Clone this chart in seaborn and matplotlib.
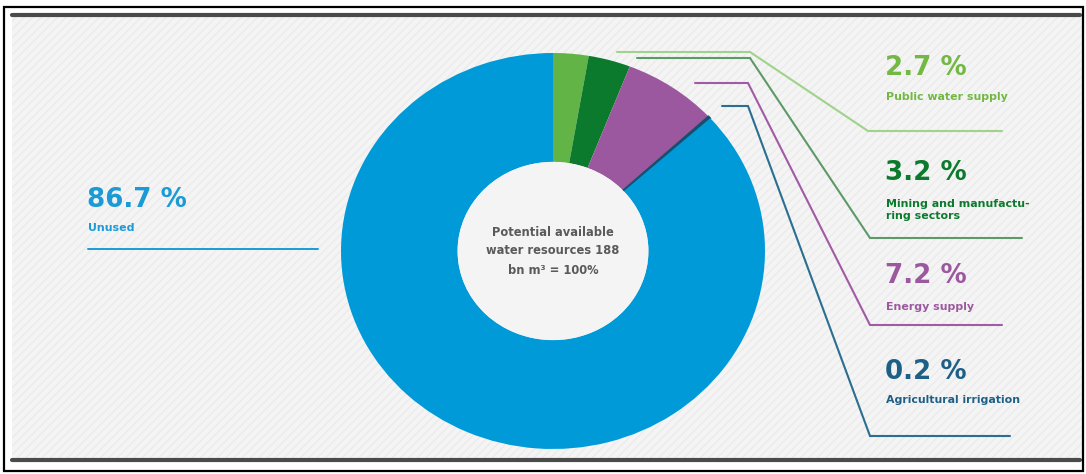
import matplotlib
matplotlib.use("Agg")
import matplotlib.pyplot as plt
import seaborn as sns
from matplotlib.patches import Rectangle

sns.set_theme(style="white")
plt.rcParams['font.family'] = ['DejaVu Sans']

# ---- data ----
categories = ["Public water supply", "Mining and manufactu-\nring sectors",
              "Energy supply", "Agricultural irrigation", "Unused"]
values = [2.7, 3.2, 7.2, 0.2, 86.7]
pct_labels = ["2.7 %", "3.2 %", "7.2 %", "0.2 %", "86.7 %"]
center_text = "Potential available\nwater resources 188\nbn m³ = 100%"

wedge_colors = ["#62b446", "#0b7a2c", "#9c589f", "#17506f", "#009ad9"]
text_colors = ["#72b843", "#0b7a2c", "#9c589f", "#1d5f86", "#1b9ad6"]
line_colors = ["#9fd28a", "#5e9a68", "#a05ba4", "#2b6e91", "#1b9ad6"]

W, H = 1086, 474
fig = plt.figure(figsize=(W / 100, H / 100), dpi=100)
ax = fig.add_axes([0, 0, 1, 1])

def Y(y):
    return H - y

# background & frame
ax.add_patch(Rectangle((12, Y(460)), 1070, 445, facecolor="#f4f4f4",
                       edgecolor="#ebebeb", hatch="////", lw=0, zorder=0))
ax.add_patch(Rectangle((4, Y(471)), 1079, 464, facecolor="none",
                       edgecolor="black", lw=1.6, zorder=5))
ax.plot([12, 1080], [Y(15), Y(15)], color="#4a4a4a", lw=3, zorder=4)
ax.plot([12, 1080], [Y(460), Y(460)], color="#4a4a4a", lw=3, zorder=4)

# leader lines (right side)
leaders = [
    [(617, 52), (750, 52), (868, 131), (1002, 131)],
    [(637, 58), (750, 58), (870, 238), (1022, 238)],
    [(695, 83), (748, 83), (870, 325), (1002, 325)],
    [(722, 106), (748, 106), (870, 436), (1010, 436)],
]
for pts, c in zip(leaders, line_colors[:4]):
    ax.plot([p[0] for p in pts], [Y(p[1]) for p in pts], color=c, lw=1.5,
            zorder=3, solid_joinstyle="miter")

# right labels
pct_y = [68, 173, 276, 372]
name_y = [97, 210, 307, 400]
for i in range(4):
    ax.text(885, Y(pct_y[i]), pct_labels[i], ha="left", va="center",
            fontsize=18.8, fontweight="bold", color=text_colors[i], zorder=6)
    ax.text(886, Y(name_y[i]), categories[i], ha="left", va="center",
            fontsize=7.9, fontweight="bold", color=text_colors[i],
            linespacing=1.3, zorder=6)

# unused label (left)
ax.plot([88, 318], [Y(249), Y(249)], color=line_colors[4], lw=1.4, zorder=3)
ax.text(87, Y(200), pct_labels[4], ha="left", va="center", fontsize=18.8,
        fontweight="bold", color=text_colors[4], zorder=6)
ax.text(88, Y(228), categories[4], ha="left", va="center", fontsize=7.9,
        fontweight="bold", color=text_colors[4], zorder=6)

ax.set_xlim(0, W)
ax.set_ylim(0, H)
ax.axis("off")

# donut (slightly elliptical, as in the reference)
x0, x1, y0, y1 = 341, 765, 53, 449
pax = fig.add_axes([x0 / W, (H - y1) / H, (x1 - x0) / W, (y1 - y0) / H])
wedges, _ = pax.pie(values, colors=wedge_colors, startangle=90,
                    counterclock=False, radius=1,
                    wedgeprops=dict(width=0.55, linewidth=0))
wedges[3].set_edgecolor(wedge_colors[3])
wedges[3].set_linewidth(1.2)
pax.add_patch(plt.Circle((0, 0), 0.45, facecolor="#f4f4f4",
                         edgecolor="none", zorder=2))
pax.set_xlim(-1, 1)
pax.set_ylim(-1, 1)
pax.set_aspect("auto")
pax.axis("off")
pax.text(0, 0.0, center_text, ha="center", va="center", fontsize=8.3,
         fontweight="bold", color="#5a5a5a", linespacing=1.6, zorder=6)

fig.savefig("out.png", dpi=100, facecolor="white")
